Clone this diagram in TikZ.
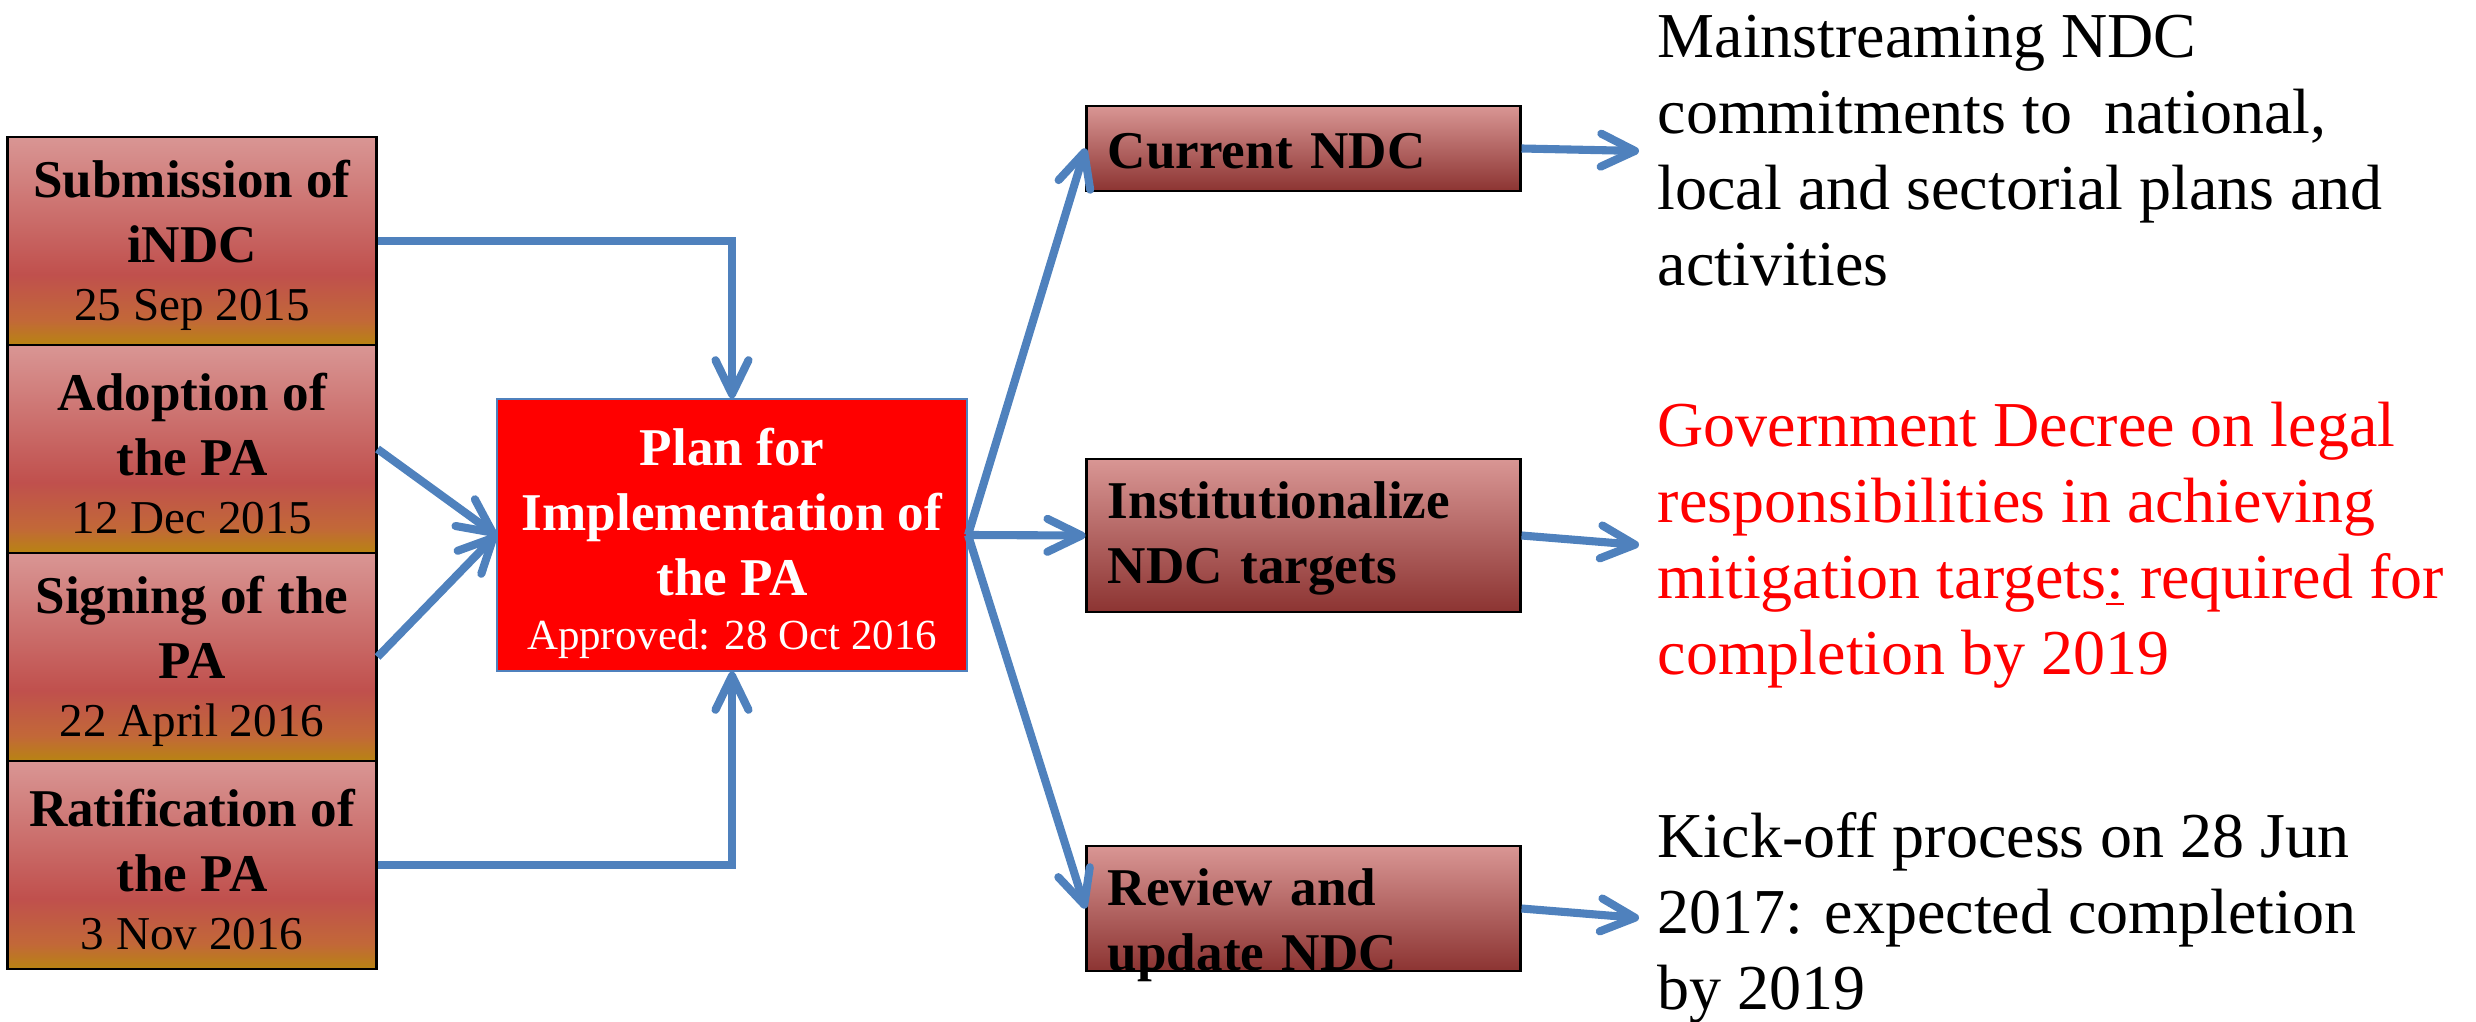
\documentclass[tikz,border=0pt]{standalone}
\usepackage{fontspec}
\setmainfont{Liberation Serif}
\usetikzlibrary{arrows.meta}

\definecolor{linkblue}{RGB}{79,129,189}
\definecolor{boxpink}{RGB}{217,150,148}
\definecolor{boxred}{RGB}{192,80,77}
\definecolor{boxorange}{RGB}{194,104,56}
\definecolor{boxgold}{RGB}{184,132,18}
\definecolor{boxdark}{RGB}{140,52,50}

% pink at the top, red, then gold at the bottom
\pgfdeclareverticalshading{milestone}{100bp}{color(0bp)=(boxgold); color(25bp)=(boxgold);
  color(31bp)=(boxorange); color(42bp)=(boxred); color(75bp)=(boxpink); color(100bp)=(boxpink)}

\newcommand{\datetext}[1]{{\fontsize{13.4}{16}\selectfont\mdseries #1}}
\newcommand{\topgap}[1]{\rule{0pt}{#1}}

\begin{document}
\begin{tikzpicture}[x=0.01cm,y=-0.01cm,
    datebox/.style={draw=black,line width=0.8pt,shade,shading=milestone,
      minimum width=3.68cm,minimum height=2.08cm,inner sep=0pt,align=center,
      font=\fontsize{15.1}{18.5}\selectfont\bfseries},
    stepbox/.style={draw=black,line width=0.8pt,top color=boxpink,middle color=boxred,
      bottom color=boxdark,text width=3.91cm,inner xsep=0.21cm,align=left,
      font=\fontsize{15.1}{18.5}\selectfont\bfseries},
    note/.style={anchor=west,inner xsep=0.18cm,align=left,
      font=\fontsize{18.2}{21.6}\selectfont},
    link/.style={draw=linkblue,line width=2.3pt,
      -{Straight Barb[length=3.4mm,width=3.3mm,round]}}]
    \useasboundingbox (0,0) rectangle (2476,1022);

    % milestones of the PA
    \node[datebox] (sub) at (192,241) {\topgap{13.2pt}Submission of\\iNDC\\[-2pt]\datetext{25 Sep 2015}};
    \node[datebox] (adop) at (192,449) {\topgap{13.2pt}Adoption of\\the PA\\[-2pt]\datetext{12 Dec 2015}};
    \node[datebox] (sign) at (192,657) {\topgap{13.2pt}Signing of the\\PA\\[-2pt]\datetext{22 April 2016}};
    \node[datebox] (rati) at (192,865) {\topgap{13.2pt}Ratification of\\the PA\\[-2pt]\datetext{3 Nov 2016}};

    \node[draw=linkblue,line width=0.5pt,fill=red,text=white,minimum width=4.7cm,
      minimum height=2.64cm,align=center,font=\fontsize{15.1}{18.5}\selectfont\bfseries]
      (plan) at (732,535) {\topgap{15.5pt}Plan for\\Implementation of\\the PA\\[-3pt]%
      {\fontsize{12.2}{15}\selectfont\mdseries Approved: 28 Oct 2016}};

    \node[stepbox,minimum height=0.85cm] (cur) at (1303.5,148.5) {\topgap{11.7pt}Current NDC};
    \node[stepbox,minimum height=1.53cm] (inst) at (1303.5,535.5) {\topgap{12.1pt}Institutionalize\\NDC targets};
    \node[stepbox,minimum height=1.25cm] (rev) at (1303.5,908.5) {Review and\\update NDC\par\kern-9.4pt};

    \node[note] (main) at (1639,151) {Mainstreaming NDC\\commitments to~ national,\\local and sectorial plans and\\activities};
    \node[note,text=red] (decree) at (1639,545) {Government Decree on legal\\responsibilities in achieving\\mitigation targets\underline{:} required for\\completion by 2019};
    \node[note] (kick) at (1639,918) {Kick-off process on 28 Jun\\2017: expected completion\\by 2019};

    \draw[link] (sub.east) -| (plan.north);
    \draw[link] (adop.east) -- (plan.west);
    \draw[link] (sign.east) -- (plan.west);
    \draw[link] (rati.east) -| (plan.south);
    \draw[link] (plan.east) -- (cur.west);
    \draw[link] (plan.east) -- (inst.west);
    \draw[link] (plan.east) -- (rev.west);
    \draw[link] (cur.east) -- (main.west);
    \draw[link] (inst.east) -- (decree.west);
    \draw[link] (rev.east) -- (kick.west);
\end{tikzpicture}
\end{document}
